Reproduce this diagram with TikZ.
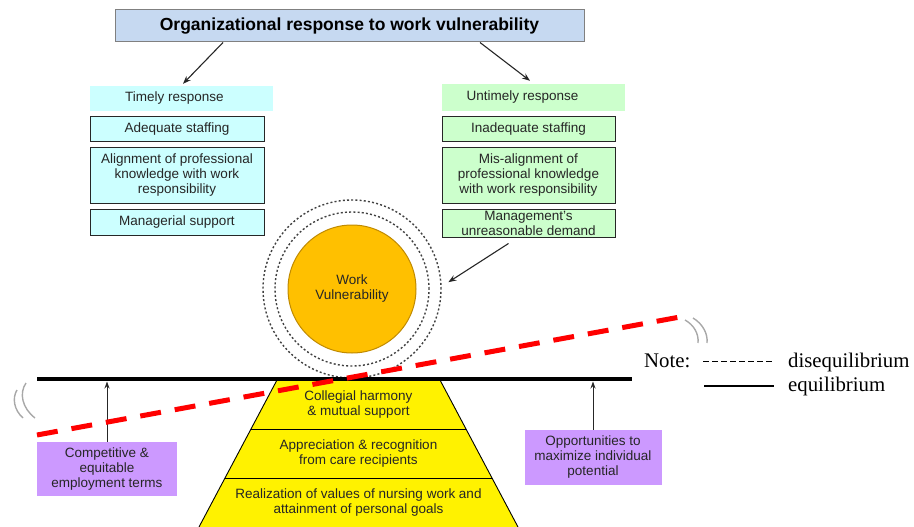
\documentclass[tikz,border=0pt]{standalone}
\usepackage{fontspec}
\setmainfont{Liberation Sans}
\newfontfamily\notefont{Liberation Serif}
\usetikzlibrary{arrows.meta,calc}
\definecolor{titlefill}{HTML}{C6D9F1}
\definecolor{titledraw}{HTML}{808080}
\definecolor{cyanfill}{HTML}{CCFFFF}
\definecolor{greenfill}{HTML}{CCFFCC}
\definecolor{purplefill}{HTML}{CC99FF}
\definecolor{orangefill}{HTML}{FFC000}
\definecolor{orangedraw}{HTML}{C08A00}
\definecolor{textgray}{HTML}{262626}
\definecolor{dotgray}{HTML}{404040}
\definecolor{arcgray}{HTML}{A8A8A8}
\begin{document}
\begin{tikzpicture}[x=1pt,y=-1pt,
  txt/.style={font=\fontsize{13.5}{15}\selectfont, text=textgray, align=center, inner sep=0pt},
  titlebox/.style={draw=titledraw, fill=titlefill, line width=1pt, inner sep=0pt,
     minimum width=469pt, minimum height=32pt, font=\bfseries\fontsize{17.5}{20}\selectfont},
  lhead/.style={txt, fill=cyanfill, minimum width=183pt},
  lbox/.style={txt, fill=cyanfill, draw=textgray, line width=1pt, minimum width=174pt},
  rhead/.style={txt, fill=greenfill, minimum width=183pt},
  rbox/.style={txt, fill=greenfill, draw=textgray, line width=1pt, minimum width=173pt},
  pbox/.style={txt, fill=purplefill},
  arr/.style={draw=textgray, line width=1.1pt, -{Stealth[length=8pt,width=6pt]}},
  uparr/.style={draw=textgray, line width=1pt, -{Stealth[length=7pt,width=5pt]}},
  dotcirc/.style={circle, draw=dotgray, line width=1.4pt, dash pattern=on 2pt off 2.2pt, inner sep=0pt},
  arcline/.style={draw=arcgray, line width=1.4pt},
  layertxt/.style={txt, text=black!85},
  notetxt/.style={font=\notefont\fontsize{20.8}{24}\selectfont, inner sep=0pt}
]
\useasboundingbox (0,0) rectangle (914,527);

% title
\node[titlebox] (title) at (349.5,26) {Organizational response to work vulnerability};

% left column
\node[lhead, minimum height=25pt] (timely) at (181.5,98.5) {\hspace*{-14pt}Timely response};
\node[lbox, minimum height=24pt] (adequate) at (177,129) {Adequate staffing};
\node[lbox, minimum height=56pt] (align) at (177,175) {Alignment of professional\\knowledge with work\\responsibility};
\node[lbox, minimum height=26pt] (managerial) at (177,222) {Managerial support};

% right column
\node[rhead, minimum height=27pt] (untimely) at (533.5,97.5) {\hspace*{-22pt}Untimely response};
\node[rbox, minimum height=24pt] (inadequate) at (528.5,129) {Inadequate staffing};
\node[rbox, minimum height=56pt] (misalign) at (528.5,175) {Mis-alignment of\\professional knowledge\\with work responsibility};
\node[rbox, minimum height=28pt] (mgmt) at (528.5,223) {Management’s\\unreasonable demand};

% arrows from title
\draw[arr] ([xshift=-126.5pt]title.south) -- ([xshift=1.5pt,yshift=2pt]timely.north);
\draw[arr] ([xshift=130.5pt]title.south) -- ([xshift=-3.5pt,yshift=3pt]untimely.north);

% circles
\node[dotcirc, minimum size=178pt] (outer) at (352,289) {};
\node[dotcirc, minimum size=154pt] (inner) at (352,289) {};
\node[circle, fill=orangefill, draw=orangedraw, line width=1pt, minimum size=128pt, txt] (work) at (352,289) {Work\\Vulnerability};

\draw[arr] ([xshift=-20pt,yshift=-6pt]mgmt.south) -- ([xshift=7pt,yshift=-1pt]outer.5);

% pyramid
\fill[yellow] (277,380) -- (440,380) -- (518,527) -- (199,527) -- cycle;
\draw[black, line width=0.9pt] (277,380) -- (199,527);
\draw[black, line width=0.9pt] (440,380) -- (518,527);
\draw[black, line width=0.9pt] (251,429) -- (466,429);
\draw[black, line width=0.9pt] (225,478) -- (492,478);
\node[layertxt] (layer1) at (358.5,404.5) {Collegial harmony\\\& mutual support};
\node[layertxt] (layer2) at (358.5,454) {Appreciation \& recognition\\from care recipients};
\node[layertxt] (layer3) at (358.5,502.5) {Realization of values of nursing work and\\attainment of personal goals};

% beam
\coordinate (beamL) at (37,379);
\coordinate (beamR) at (632,379);
\coordinate (beamB) at (0,381.5);
\draw[black, line width=4pt] (beamL) -- (beamR);

% purple boxes
\node[pbox, minimum width=140pt, minimum height=54pt] (compL) at (107,469) {Competitive \&\\equitable\\employment terms};
\node[pbox, minimum width=137pt, minimum height=55pt] (oppR) at (593,457.5) {Opportunities to\\maximize individual\\potential};
\draw[uparr] (compL.north) -- (compL.north |- beamB);
\draw[uparr] (oppR.north) -- (oppR.north |- beamB);

% disequilibrium line
\coordinate (redL) at (37,435);
\coordinate (redR) at (680,317);
\draw[red, line width=5pt, dash pattern=on 21pt off 14pt] (redL) -- (redR);

% motion arcs
\draw[arcline] (17,390) .. controls (12,398) and (14,410) .. (23,418);
\draw[arcline] (26,383) .. controls (19,393) and (22,408) .. (35,418);
\draw[arcline] (685,320) .. controls (694,325) and (699,334) .. (698,343);
\draw[arcline] (693,318) .. controls (703,324) and (708,334) .. (707,343);

% legend
\node[notetxt, anchor=base west] (note) at (644,367) {Note:};
\node[notetxt, anchor=base west] (diseq) at (788,367) {disequilibrium};
\node[notetxt, anchor=base west] (equil) at (788,391) {equilibrium};
\coordinate (dashA) at (703,361.5);
\coordinate (dashB) at (773,361.5);
\coordinate (solA) at (704,386);
\coordinate (solB) at (774,386);
\draw[black, line width=1.1pt, dash pattern=on 6pt off 3pt] (dashA) -- (dashB);
\draw[black, line width=1.1pt] (solA) -- (solB);
\end{tikzpicture}
\end{document}
